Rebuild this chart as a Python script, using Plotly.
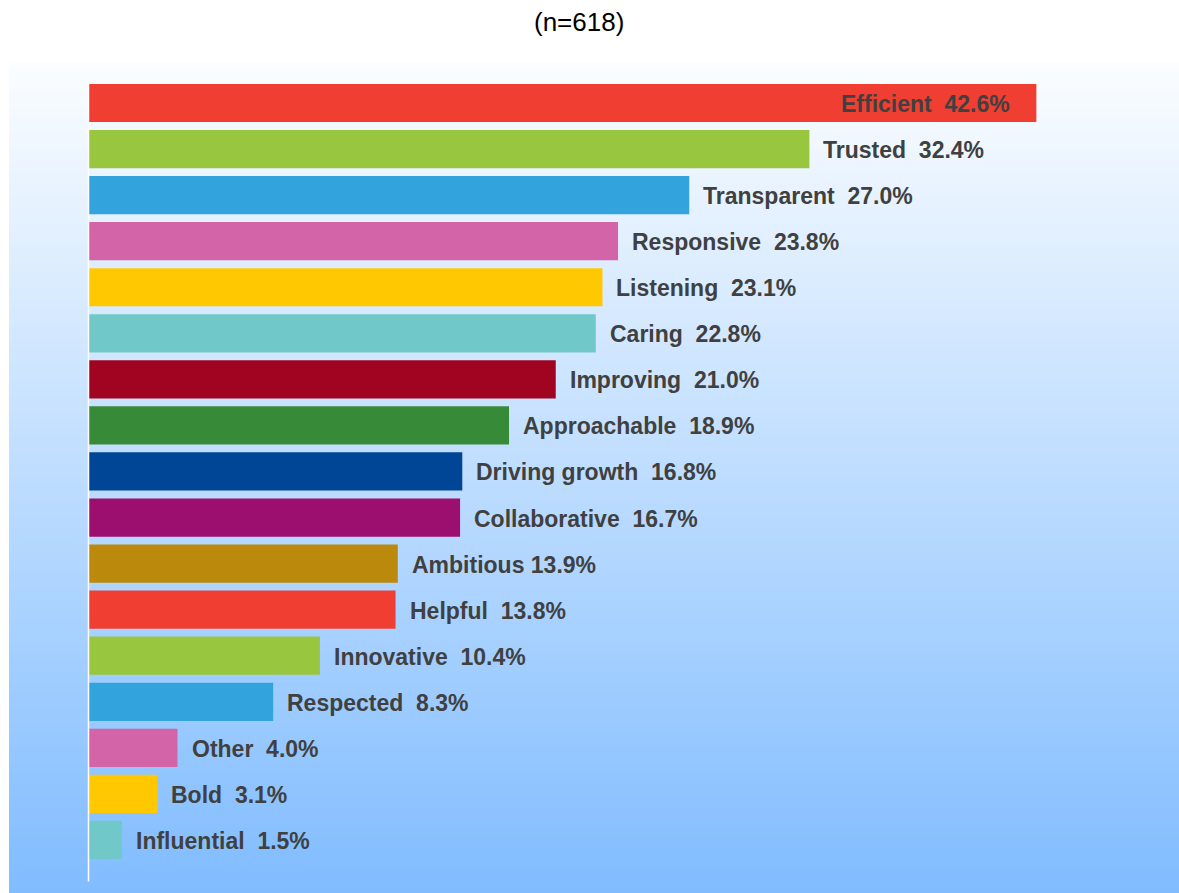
import plotly.graph_objects as go

# Survey responses (n=618), share of respondents choosing each word
categories = ["Efficient", "Trusted", "Transparent", "Responsive", "Listening", "Caring",
              "Improving", "Approachable", "Driving growth", "Collaborative", "Ambitious",
              "Helpful", "Innovative", "Respected", "Other", "Bold", "Influential"]
values = [42.6, 32.4, 27.0, 23.8, 23.1, 22.8, 21.0, 18.9, 16.8, 16.7, 13.9,
          13.8, 10.4, 8.3, 4.0, 3.1, 1.5]
separators = ["  "] * 10 + [" "] + ["  "] * 6
colors = ["#F03E32", "#98C63E", "#33A3DD", "#D264A7", "#FFC800", "#70C9C8",
          "#A10421", "#378B38", "#004696", "#9D0F6E", "#BB890B",
          "#F03E32", "#98C63E", "#33A3DD", "#D264A7", "#FFC800", "#70C9C8"]
subtitle = "(n=618)"

W, H = 1179, 893
L, T = 9, 63
plot_w, plot_h = W - L, H - T
px_per_unit = 22.25
x0_px = 88.5 - L
x_range = [-x0_px / px_per_unit, (plot_w - x0_px) / px_per_unit]
pitch = 46.06
y_range = [len(categories) - 1 + (plot_h - 40 - (len(categories) - 1) * pitch) / pitch, -40 / pitch]

fig = go.Figure()
fig.add_trace(go.Bar(
    x=values, y=categories, orientation="h",
    marker=dict(color=colors, line=dict(width=0)),
    width=0.83, hoverinfo="skip",
))

# Vertical gradient background drawn as thin stripes
top_rgb = (251, 253, 255)
bot_rgb = (128, 188, 255)
n_stripes = 166
shapes = []
for i in range(n_stripes):
    f = (i + 0.5) / n_stripes
    c = tuple(round(top_rgb[k] + (bot_rgb[k] - top_rgb[k]) * f) for k in range(3))
    shapes.append(dict(type="rect", xref="paper", yref="paper", layer="below",
                       x0=0, x1=1, y0=1 - (i + 1) / n_stripes - 0.001, y1=1 - i / n_stripes,
                       fillcolor="rgb(%d,%d,%d)" % c, line=dict(width=0)))
# white baseline
shapes.append(dict(type="line", xref="x", yref="y", x0=0, x1=0,
                   y0=-0.43, y1=len(categories) - 1 + 0.9,
                   line=dict(color="white", width=1.5)))

annotations = []
for i, (name, v, sep) in enumerate(zip(categories, values, separators)):
    text = "<b>%s%s%.1f%%</b>" % (name, sep, v)
    if i == 0:
        annotations.append(dict(x=v, y=name, text=text, showarrow=False,
                                xanchor="right", xshift=-24, yshift=-1))
    else:
        annotations.append(dict(x=v, y=name, text=text, showarrow=False,
                                xanchor="left", xshift=12, yshift=-1))
annotations.append(dict(x=(579 - L) / plot_w, y=1 + (T - 22) / plot_h, xref="paper", yref="paper",
                        text=subtitle, showarrow=False, xanchor="center", yanchor="middle",
                        font=dict(size=26, color="#000000", family="Liberation Sans")))

fig.update_layout(
    width=W, height=H,
    margin=dict(l=L, r=0, t=T, b=0),
    paper_bgcolor="white", plot_bgcolor="rgba(0,0,0,0)",
    showlegend=False,
    font=dict(family="Liberation Sans", size=23, color="#404040"),
    xaxis=dict(range=x_range, visible=False, fixedrange=True),
    yaxis=dict(range=y_range, visible=False, type="category", fixedrange=True),
    shapes=shapes, annotations=annotations,
)

fig.write_html("out.html", config={"displayModeBar": False})
